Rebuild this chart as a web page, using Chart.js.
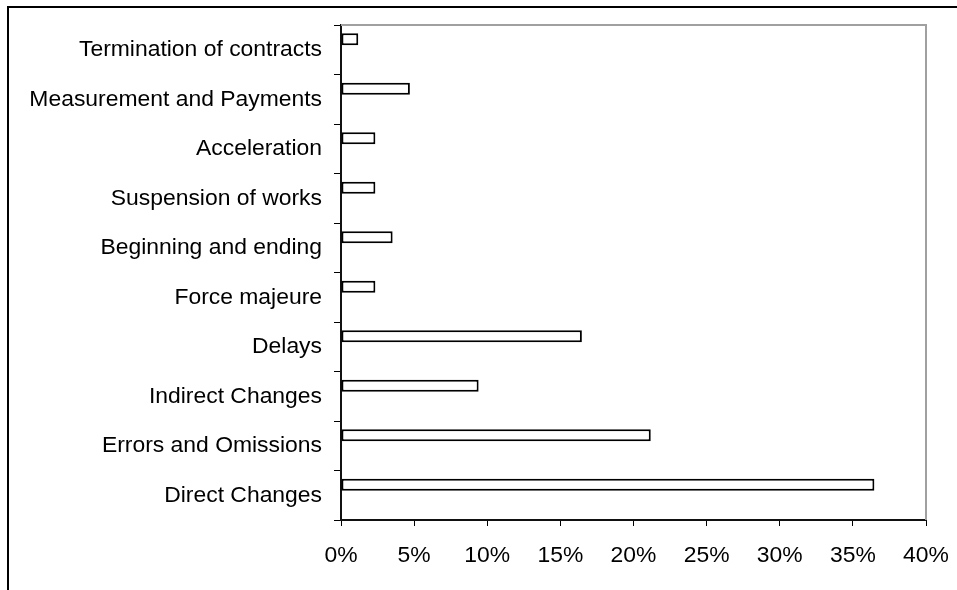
<!DOCTYPE html>
<html lang="en">
<head>
  <meta charset="UTF-8">
  <title>Claim categories</title>
  <script src="https://cdn.jsdelivr.net/npm/chart.js"></script>
  <style>
    html, body { margin: 0; padding: 0; background: #fff; overflow: hidden; }
    #frame {
      position: absolute; left: 7px; top: 6px; width: 1000px; height: 700px;
      border-top: 2px solid #000; border-left: 2px solid #000; pointer-events: none;
    }
    #claimsChart { position: absolute; left: 0; top: 0; }
  </style>
</head>
<body>
  <canvas id="claimsChart" width="957" height="590"></canvas>
  <div id="frame"></div>

  <script>
// categories, top to bottom as in the picture
const categories = [
    'Termination of contracts',
    'Measurement and Payments',
    'Acceleration',
    'Suspension of works',
    'Beginning and ending',
    'Force majeure',
    'Delays',
    'Indirect Changes',
    'Errors and Omissions',
    'Direct Changes'
];
// share of claims, in percent
const shares = [1.18, 4.71, 2.35, 2.35, 3.53, 2.35, 16.47, 9.41, 21.18, 36.47];
// empty second series (keeps the bars sitting in the upper half of each band, like the original)
const emptySeries = [];
const xMin = 0, xMax = 40, xStep = 5;

// grey top and right edge of the plot area
const plotEdge = {
    id: 'plotEdge',
    afterDraw(chart) {
        const { ctx, chartArea: a } = chart;
        ctx.save();
        ctx.strokeStyle = '#a0a0a0';
        ctx.lineWidth = 2;
        ctx.beginPath();
        ctx.moveTo(a.left, a.top);
        ctx.lineTo(a.right, a.top);
        ctx.lineTo(a.right, a.bottom);
        ctx.stroke();
        ctx.restore();
    }
};

const font = { family: "'Liberation Sans', Arial, sans-serif", size: 22.9 };

new Chart(document.getElementById('claimsChart'), {
    type: 'bar',
    data: {
        labels: categories,
        datasets: [
            {
                label: 'Share',
                data: shares,
                backgroundColor: '#ffffff',
                borderColor: '#000000',
                borderWidth: 2,
                borderSkipped: false,
                categoryPercentage: 0.85,
                barPercentage: 0.57
            },
            {
                label: 'spacer',
                data: emptySeries,
                backgroundColor: 'rgba(0,0,0,0)',
                borderWidth: 0,
                categoryPercentage: 0.85,
                barPercentage: 0.57
            }
        ]
    },
    options: {
        indexAxis: 'y',
        responsive: false,
        animation: false,
        devicePixelRatio: 1,
        layout: { padding: { top: 25, right: 31, bottom: 0, left: 0 } },
        plugins: {
            legend: { display: false },
            tooltip: { enabled: false }
        },
        scales: {
            x: {
                min: xMin,
                max: xMax,
                ticks: {
                    stepSize: xStep,
                    color: '#000',
                    font: font,
                    padding: 16,
                    maxRotation: 0,
                    callback: v => v + '%'
                },
                grid: {
                    drawOnChartArea: false,
                    drawTicks: true,
                    tickLength: 6,
                    tickColor: '#000',
                    tickWidth: 1
                },
                border: { color: '#111', width: 2 },
                afterFit: s => {
                    s.height = 70;
                    s.paddingLeft = 0;
                    s.paddingRight = 0;
                }
            },
            y: {
                ticks: {
                    color: '#000',
                    font: font,
                    padding: 12,
                    autoSkip: false
                },
                grid: {
                    offset: true,
                    drawOnChartArea: false,
                    drawTicks: true,
                    tickLength: 7,
                    tickColor: '#000',
                    tickWidth: 1
                },
                border: { color: '#111', width: 2 },
                afterFit: s => {
                    s.width = 341;
                    s.paddingTop = 0;
                    s.paddingBottom = 0;
                }
            }
        }
    },
    plugins: [plotEdge]
});
  </script>
</body>
</html>
